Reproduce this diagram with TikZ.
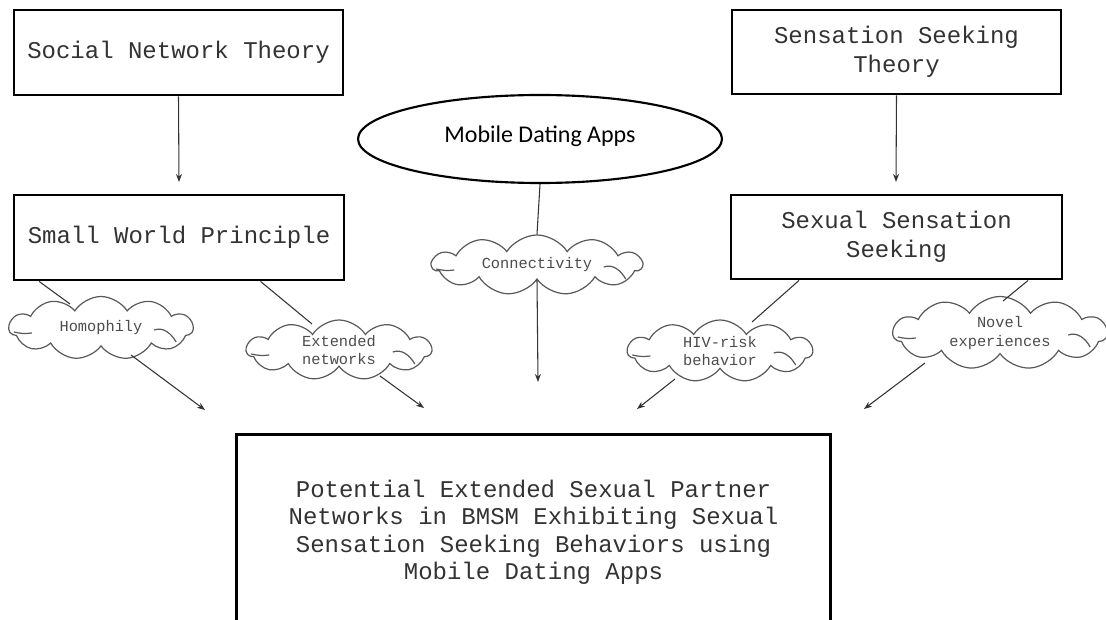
\documentclass[tikz,border=0pt]{standalone}
\usepackage{fontspec}
\setmonofont{Liberation Mono}
\setsansfont{Carlito}
\usetikzlibrary{shapes.geometric,shapes.symbols,arrows.meta,calc}
\begin{document}
\begin{tikzpicture}[x=0.75pt,y=-0.75pt,
  theorybox/.style={draw=black,line width=2.2pt,rectangle,fill=white,align=center,
    font=\ttfamily\fontsize{18}{21.5}\selectfont,text=black!80,inner sep=2pt},
  thought/.style={draw=black!65,line width=0.9pt,cloud,cloud puffs=11,cloud puff arc=115,cloud ignores aspect,
    align=center,font=\ttfamily\fontsize{11.5}{14}\selectfont,text=black!70,inner sep=0pt},
  curl/.style={draw=black!65,line width=0.9pt},
  link/.style={draw=black!80,line width=0.8pt},
  arr/.style={link,-{Stealth[length=6pt,width=4.5pt]}}]
\useasboundingbox (0,0) rectangle (1106,620);
\fill[white] (0,0) rectangle (1106,620);

% boxes
\node[theorybox,minimum width=329*0.75pt,minimum height=85*0.75pt] (snt) at (178.5,52.5) {Social Network Theory};
\node[theorybox,minimum width=330*0.75pt,minimum height=85*0.75pt] (swp) at (179,237.5) {Small World Principle};
\node[theorybox,minimum width=329*0.75pt,minimum height=84*0.75pt] (sst) at (896.5,52) {\raisebox{-1pt}{Sensation Seeking}\\\raisebox{-1pt}{Theory}};
\node[theorybox,minimum width=331*0.75pt,minimum height=84*0.75pt] (sss) at (896.5,237) {Sexual Sensation\\Seeking};

% ellipse
\node[ellipse,draw=black,line width=1.6pt,minimum width=364*0.75pt,minimum height=88*0.75pt,
  font=\sffamily\fontsize{18}{21}\selectfont,text=black] (mda) at (540,139) {\raisebox{7pt}{Mobile Dating Apps}};

% clouds
\node[thought,minimum width=184*0.75pt,minimum height=63*0.75pt] (homo) at (101,328) {Homophily};
\node[thought,minimum width=185*0.75pt,minimum height=60*0.75pt] (ext) at (339,350) {Extended\\networks};
\node[thought,minimum width=210*0.75pt,minimum height=60*0.75pt] (conn) at (537,265) {Connectivity};
\node[thought,minimum width=185*0.75pt,minimum height=62*0.75pt] (hiv) at (720,351) {HIV-risk\\behavior};
\node[thought,minimum width=214*0.75pt,minimum height=73*0.75pt] (novel) at (1000,333) {Novel\\experiences};

% inner curls of the clouds
\foreach \c in {homo,ext,conn,hiv,novel}{
  \draw[curl] ($(\c.west)+(6,4)$) to[bend right=10] ($(\c.west)+(24,5)$);
  \draw[curl] ($(\c.east)+(-40,2)$) to[out=20,in=120] ($(\c.east)+(-18,14)$);
}

% outcome box
\node[rectangle,minimum width=593*0.75pt,minimum height=195*0.75pt,align=center,
  font=\ttfamily\fontsize{18}{20.6}\selectfont,text=black!80] (out) at (533.5,532.5)
  {Potential Extended Sexual Partner\\Networks in BMSM Exhibiting Sexual\\Sensation Seeking Behaviors using\\Mobile Dating Apps};
\draw[line width=2.2pt] (out.south west) -- (out.north west) -- (out.north east) -- (out.south east);

% arrow end points
\coordinate (t1) at (179,182);
\coordinate (t2) at (896,182);
\coordinate (a1) at (205,410);
\coordinate (a2) at (424,408);
\coordinate (a3) at (538,382);
\coordinate (a4) at (637,409);
\coordinate (a5) at (864,409);

% connectors
\draw[arr] (snt.south) -- (t1);
\draw[arr] (sst.south) -- (t2);
\draw[link] ($(swp.south west)!0.08!(swp.south east)$) -- ($(homo)+(-31,-24)$);
\draw[arr] ($(homo)+(30,27)$) -- (a1);
\draw[link] ($(swp.south west)!0.745!(swp.south east)$) -- ($(ext)+(-27,-26)$);
\draw[arr] ($(ext)+(41,26)$) -- (a2);
\draw[link] (mda.south) -- (conn.north);
\draw[arr] (conn.south) -- (a3);
\draw[link] ($(sss.south west)!0.208!(sss.south east)$) -- ($(hiv)+(32,-29)$);
\draw[arr] ($(hiv)+(-45,28)$) -- (a4);
\draw[link] ($(sss.south west)!0.894!(sss.south east)$) -- ($(novel)+(3,-32)$);
\draw[arr] ($(novel)+(-75,30)$) -- (a5);
\end{tikzpicture}
\end{document}
